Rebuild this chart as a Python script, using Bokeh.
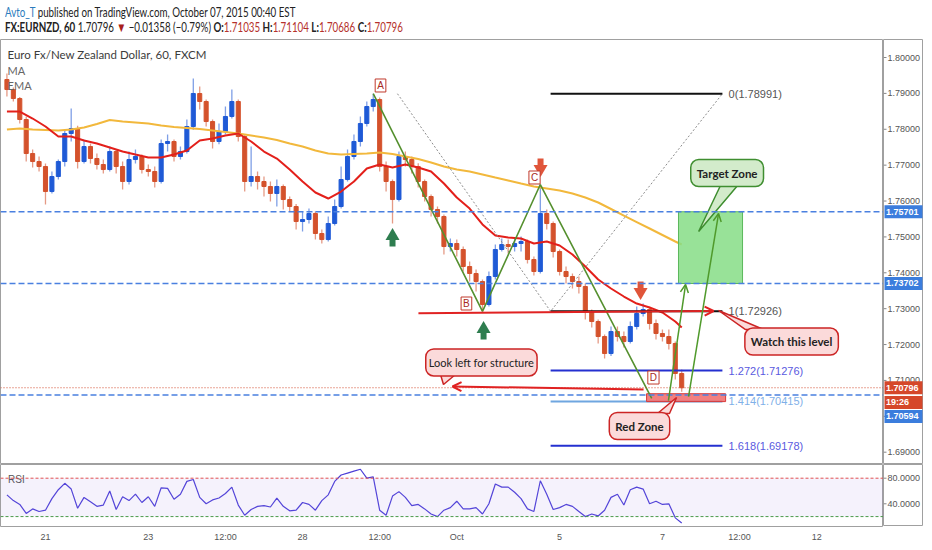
from bokeh.plotting import figure
from bokeh.models import (Range1d, FixedTicker, Span, BoxAnnotation,
                          Label, Arrow, OpenHead, ColumnDataSource, Div)
from bokeh.layouts import column, row
from bokeh.embed import file_html
from bokeh.resources import INLINE
from bokeh.core.properties import value

# ---------------- data (EURNZD, 3-hour bars, x = trading hours from Sep 21 00:00) ----------------
first_hour = -18
bar_hours = 3
first_open = 1.79387
closes = [1.79108, 1.78857, 1.78272, 1.77324, 1.77101, 1.76962, 1.76265, 1.76683, 1.77101, 1.77882,
          1.78021, 1.77101, 1.77519, 1.77185, 1.77018, 1.76878, 1.77380, 1.76962, 1.76544, 1.77157,
          1.77241, 1.76878, 1.76823, 1.76544, 1.77603, 1.77659, 1.77241, 1.77380, 1.78077, 1.78997,
          1.78774, 1.78216, 1.77659, 1.77938, 1.78356, 1.78774, 1.77798, 1.76544, 1.76683, 1.76544,
          1.76405, 1.76210, 1.76405, 1.76042, 1.75847, 1.75429, 1.75485, 1.75652, 1.75095, 1.74927,
          1.75373, 1.75847, 1.76600, 1.77241, 1.77659, 1.78161, 1.78634, 1.78829, 1.76962, 1.76544,
          1.76042, 1.77241, 1.77157, 1.76962, 1.76544, 1.76126, 1.75764, 1.75569, 1.74732, 1.74816,
          1.74649, 1.74175, 1.73980, 1.73757, 1.73116, 1.73896, 1.74649, 1.74788, 1.74732, 1.74816,
          1.74872, 1.74370, 1.74036, 1.75652, 1.75373, 1.74593, 1.74036, 1.73896, 1.73757, 1.73618,
          1.72921, 1.72642, 1.72224, 1.71750, 1.72363, 1.72224, 1.72085, 1.72503, 1.72865, 1.72976,
          1.72586, 1.72308, 1.72224, 1.72029, 1.71193, 1.70796]
highs = [1.79554, 1.79164, 1.78900, 1.78356, 1.77436, 1.77241, 1.77046, 1.76823, 1.77157, 1.77993,
         1.78579, 1.78100, 1.77715, 1.77600, 1.77324, 1.77157, 1.77519, 1.77436, 1.77101, 1.77380,
         1.77436, 1.77300, 1.77018, 1.76962, 1.77715, 1.77854, 1.77715, 1.77519, 1.78272, 1.79415,
         1.79192, 1.78829, 1.78272, 1.78161, 1.78634, 1.79108, 1.78829, 1.77854, 1.77519, 1.76823,
         1.76683, 1.76544, 1.76600, 1.76460, 1.76126, 1.75920, 1.75708, 1.75791, 1.75708, 1.75206,
         1.75569, 1.76042, 1.76962, 1.77436, 1.77854, 1.78356, 1.78774, 1.78991, 1.78885, 1.77101,
         1.76600, 1.77380, 1.77380, 1.77241, 1.77050, 1.76600, 1.76182, 1.75847, 1.75624, 1.74955,
         1.74927, 1.74732, 1.74314, 1.74091, 1.73813, 1.74036, 1.74788, 1.74955, 1.74927, 1.74983,
         1.75011, 1.74927, 1.74454, 1.76460, 1.75764, 1.75429, 1.74650, 1.74175, 1.73980, 1.73896,
         1.73700, 1.72976, 1.72698, 1.72280, 1.72503, 1.72503, 1.72363, 1.72642, 1.73060, 1.73144,
         1.73060, 1.72698, 1.72419, 1.72419, 1.72085, 1.71304]
lows = [1.78913, 1.78774, 1.78161, 1.77101, 1.76934, 1.76823, 1.75903, 1.76210, 1.76600, 1.76962,
        1.77659, 1.76906, 1.77046, 1.77046, 1.76878, 1.76767, 1.76823, 1.76767, 1.76321, 1.76460,
        1.77046, 1.76767, 1.76683, 1.76377, 1.76488, 1.77380, 1.77101, 1.77157, 1.77324, 1.77990,
        1.78551, 1.78077, 1.77464, 1.77580, 1.77854, 1.78300, 1.77659, 1.76265, 1.76405, 1.76321,
        1.76126, 1.75987, 1.75847, 1.75764, 1.75708, 1.75206, 1.75150, 1.75373, 1.74927, 1.74816,
        1.74872, 1.75318, 1.75791, 1.76544, 1.77157, 1.77519, 1.78077, 1.78495, 1.76823, 1.76265,
        1.75373, 1.75987, 1.76962, 1.76767, 1.76377, 1.75987, 1.75569, 1.75373, 1.74509, 1.74593,
        1.74454, 1.74036, 1.73757, 1.73478, 1.72926, 1.73060, 1.73813, 1.74593, 1.74537, 1.74593,
        1.74593, 1.74259, 1.73924, 1.73980, 1.75206, 1.74426, 1.73924, 1.73701, 1.73562, 1.73422,
        1.72698, 1.72475, 1.72029, 1.71611, 1.71680, 1.72085, 1.71917, 1.72029, 1.72419, 1.72781,
        1.72419, 1.72140, 1.72085, 1.71862, 1.71026, 1.70686]
ma_index = list(range(0, 106, 2)) + [105]
ema_line = [1.78495, 1.78495, 1.78300, 1.78077, 1.77798, 1.77798, 1.77687, 1.77603, 1.77492, 1.77380,
            1.77296, 1.77213, 1.77213, 1.77296, 1.77408, 1.77687, 1.77742, 1.77826, 1.77882, 1.77659,
            1.77380, 1.77185, 1.76878, 1.76544, 1.76237, 1.76070, 1.76265, 1.76544, 1.76906, 1.77018,
            1.76934, 1.77018, 1.76934, 1.76823, 1.76488, 1.76098, 1.75791, 1.75346, 1.75039, 1.74983,
            1.74955, 1.74816, 1.74872, 1.74760, 1.74509, 1.74175, 1.73813, 1.73562, 1.73339, 1.73144,
            1.73032, 1.72893, 1.72642, 1.72475]
ma_line = [1.77993, 1.78021, 1.77993, 1.77979, 1.77965, 1.77993, 1.78049, 1.78147, 1.78258, 1.78216,
           1.78188, 1.78161, 1.78105, 1.78063, 1.78035, 1.78007, 1.77965, 1.77924, 1.77882, 1.77826,
           1.77770, 1.77701, 1.77603, 1.77519, 1.77408, 1.77324, 1.77296, 1.77310, 1.77324, 1.77352,
           1.77310, 1.77241, 1.77171, 1.77073, 1.76962, 1.76878, 1.76823, 1.76739, 1.76655, 1.76572,
           1.76488, 1.76405, 1.76349, 1.76293, 1.76210, 1.76098, 1.75959, 1.75778, 1.75596, 1.75415,
           1.75234, 1.75053, 1.74872, 1.74788]
rsi = [54, 45, 39, 25, 32, 28, 30, 48, 62, 72,
       63, 33, 50, 43, 36, 38, 60, 31, 51, 45,
       55, 42, 51, 36, 65, 64, 47, 55, 75, 78,
       50, 40, 46, 49, 56, 66, 38, 22, 31, 36,
       37, 35, 49, 36, 29, 30, 42, 39, 30, 45,
       54, 75, 85, 88, 91, 94, 80, 82, 30, 22,
       52, 59, 50, 37, 39, 32, 24, 20, 30, 34,
       44, 32, 32, 34, 24, 40, 71, 66, 66, 58,
       48, 32, 28, 76, 55, 31, 34, 39, 36, 28,
       20, 24, 21, 30, 50, 55, 38, 62, 66, 63,
       40, 44, 39, 40, 18, 10]

time_ticks = [0, 48, 84, 120, 156, 192, 240, 288, 324, 360]
time_labels = ["21", "23", "12:00", "28", "12:00", "Oct", "5", "7", "12:00", "12"]
price_ticks = [1.69, 1.70, 1.71, 1.72, 1.73, 1.74, 1.75, 1.76, 1.77, 1.78, 1.79, 1.80]
rsi_ticks = [40, 80]
rsi_bands = [20, 80]

level_prices = [1.75701, 1.73702, 1.70594]
last_price = 1.70796

# price tags on the right scale
tag_texts = ["1.75701", "1.73702", "1.70796", "19:26", "1.70594"]
tag_prices = [1.75701, 1.73702, 1.70796, 1.70385, 1.69995]
tag_colors = ["#3b7ddd", "#3b7ddd", "#d5472a", "#d5472a", "#3b7ddd"]

# harmonic A-B-C-D
abcd_names = ["A", "B", "C", "D"]
abcd_hours = [153.0, 204.0, 231.0, 283.0]
abcd_prices = [1.78991, 1.72926, 1.76460, 1.70500]
abcd_label_hours = [156.4, 196.5, 228.3, 283.8]
abcd_label_prices = [1.79220, 1.73144, 1.76656, 1.71081]

# fib extension
fib_ratios = ["0", "1", "1.272", "1.414", "1.618"]
fib_prices = [1.78991, 1.72926, 1.71276, 1.70415, 1.69178]
fib_span = [235.8, 316.0]
fib_label_hour = 318.9
fib_diag_hours = [164.3, 235.8, 316.0]
fib_diag_prices = [1.78991, 1.72926, 1.78991]

# signal arrows (hour, head centre, stem centre)
sig_hours = [162.0, 204.5, 231.1, 277.8]
sig_heads = [1.75025, 1.72433, 1.76892, 1.73464]
sig_stems = [1.74844, 1.72252, 1.77074, 1.73645]
sig_markers = ["triangle", "triangle", "inverted_triangle", "inverted_triangle"]

# zones
red_zone = dict(left=280.6, right=317.5, top=1.70630, bottom=1.70410)
target_zone = dict(left=295.5, right=325.4, top=1.75701, bottom=1.73702)

# drawn arrows (x0, y0, x1, y1)
red_level_arrow = (174.1, 1.72875, 311.9, 1.72935)
look_left_arrow = (279.2, 1.70747, 190.0, 1.70831)
green_arrows = [(290.8, 1.70440, 298.8, 1.73673), (300.2, 1.70551, 314.2, 1.75652)]

# callouts
callout_texts = ["Look left for structure", "Watch this level", "Red Zone", "Target Zone"]
callout_hours = [203.5, 348.3, 277.3, 318.2]
callout_prices = [1.71500, 1.72085, 1.69730, 1.76781]
tail_xs = [[184.4, 191.4, 185.8], [326.8, 335.2, 314.2], [285.7, 291.3, 294.6], [315.1, 323.1, 304.9]]
tail_ys = [[1.71165, 1.71165, 1.70886], [1.72419, 1.72419, 1.72949],
           [1.70078, 1.70078, 1.70524], [1.76433, 1.76433, 1.75150]]

# ---------------- styles ----------------
UP, DOWN = "#1f5ad6", "#d4522c"
UP_WICK, DOWN_WICK = "#7f9fe6", "#e59a85"
fib_colors = ["#111111", "#111111", "#2430d0", "#6fa6e0", "#2430d0"]
fib_text_colors = ["#555555", "#555555", "#5a5ae0", "#7fb0e8", "#5a5ae0"]
sig_colors = ["#2e7d4f", "#2e7d4f", "#e0553a", "#e0553a"]
callout_bold = [False, True, True, True]
callout_padx = [3, 6, 6, 6]
callout_fill = ["#fbdada", "#fbdada", "#fbdada", "#d3ebcb"]
callout_line = ["#cc2525", "#cc2525", "#cc2525", "#3f8e30"]
AXIS_TXT = "#555555"
BORDER = "#a0a0a0"
FRAME_W = 883
SCALE_W = 40

# ---------------- header ----------------
header_html = (
    '<div style="font-family:Lato,sans-serif;font-size:13px;line-height:15px;color:#222;'
    'white-space:nowrap;transform:scaleX(0.75);transform-origin:0 0;">'
    '<div><span style="color:#2b7bbd">Avto_T</span> published on TradingView.com, October 07, 2015 00:40 EST</div>'
    '<div><b>FX:EURNZD, 60</b> 1.70796 <span style="color:#a8201a">&#9660;</span> &#8722;0.01358 (&#8722;0.79%) '
    '<b>O:</b><span style="color:#b5312b">1.71035</span> <b>H:</b><span style="color:#b5312b">1.71104</span> '
    '<b>L:</b><span style="color:#b5312b">1.70686</span> <b>C:</b><span style="color:#b5312b">1.70796</span></div>'
    '</div>'
)
header = Div(text=header_html, width=FRAME_W + SCALE_W, height=29)

# ---------------- main pane ----------------
x_range = Range1d(-21.0, 391.2)
price_range = Range1d(1.68657, 1.80502)
p = figure(frame_width=FRAME_W, frame_height=425, x_range=x_range, y_range=price_range,
           x_axis_location=None, y_axis_location=None, toolbar_location=None,
           output_backend="svg", min_border=0, outline_line_color=BORDER,
           background_fill_color="white", border_fill_color="white")
p.grid.visible = False

for lp in level_prices:
    p.add_layout(Span(location=lp, dimension="width", line_color="#4a80e0", line_dash="6 3", line_width=1.5))
p.add_layout(Span(location=last_price, dimension="width", line_color="#d24a2c", line_dash="1 2", line_width=1))

n = len(closes)
hours = [first_hour + bar_hours * i for i in range(n)]
opens = [first_open] + closes[:-1]
is_up = [c >= o for o, c in zip(opens, closes)]
src = ColumnDataSource(dict(
    x=hours, h=highs, l=lows,
    top=[max(o, c) for o, c in zip(opens, closes)],
    bottom=[min(o, c) for o, c in zip(opens, closes)],
    body=[UP if u else DOWN for u in is_up],
    wick=[UP_WICK if u else DOWN_WICK for u in is_up],
))
p.segment(x0="x", y0="l", x1="x", y1="h", line_color="wick", line_width=1.3, source=src)
p.vbar(x="x", width=1.9, top="top", bottom="bottom", fill_color="body", line_color="body",
       line_width=1, source=src)

ma_hours = [hours[i] for i in ma_index]
p.line(ma_hours, ma_line, line_color="#f2b83c", line_width=2)
p.line(ma_hours, ema_line, line_color="#e3201b", line_width=2)

# fib tool
p.line(fib_diag_hours, fib_diag_prices, line_color="#8c8c8c", line_dash="2 2", line_width=1)
p.segment(x0=[fib_span[0]] * len(fib_prices), y0=fib_prices, x1=[fib_span[1]] * len(fib_prices),
          y1=fib_prices, line_color=fib_colors, line_width=2)
p.text(x=[fib_label_hour] * len(fib_prices), y=fib_prices,
       text=[f"{r}({v:.5f})" for r, v in zip(fib_ratios, fib_prices)],
       text_color=fib_text_colors, text_font=value("Liberation Sans"), text_font_size="11px",
       text_baseline="middle", text_align="left")

# zones
p.quad(fill_color="#f06a6a", fill_alpha=0.85, line_color="#d83a3a", line_width=1,
       **{k: [v] for k, v in red_zone.items()})
p.quad(fill_color="#86dd86", fill_alpha=0.85, line_color="#5cb85c", line_width=1,
       **{k: [v] for k, v in target_zone.items()})

# harmonic lines
p.line(abcd_hours, abcd_prices, line_color="#55902f", line_width=1.6)

# arrows
x0, y0, x1, y1 = red_level_arrow
p.add_layout(Arrow(x_start=x0, y_start=y0, x_end=x1, y_end=y1, line_color="#e02222", line_width=2,
                   end=OpenHead(size=9, line_color="#e02222", line_width=2)))
x0, y0, x1, y1 = look_left_arrow
p.add_layout(Arrow(x_start=x0, y_start=y0, x_end=x1, y_end=y1, line_color="#e02222", line_width=2,
                   end=OpenHead(size=9, line_color="#e02222", line_width=2)))
for (x0, y0, x1, y1) in green_arrows:
    p.add_layout(Arrow(x_start=x0, y_start=y0, x_end=x1, y_end=y1, line_color="#4f9a2b", line_width=1.5,
                       end=OpenHead(size=8, line_color="#4f9a2b", line_width=1.5)))

# signal arrows
p.rect(x=sig_hours, y=sig_stems, width=6, height=8, width_units="screen", height_units="screen",
       fill_color=sig_colors, line_color=None)
p.scatter(x=sig_hours, y=sig_heads, marker=sig_markers, size=14, fill_color=sig_colors, line_color=None)

# callouts
p.patches(xs=tail_xs, ys=tail_ys, fill_color=callout_fill, line_color=callout_line, line_width=1.5)
for t, hx, py, b, px_, fc, lc in zip(callout_texts, callout_hours, callout_prices, callout_bold,
                                     callout_padx, callout_fill, callout_line):
    p.add_layout(Label(x=hx, y=py, text=t, text_align="center", text_baseline="middle",
                       text_font="Lato", text_font_size="11px" if not b else "11.5px",
                       text_font_style="bold" if b else "normal", text_color="#222222",
                       background_fill_color=fc, border_line_color=lc, border_line_width=1.5,
                       border_radius=8, padding=dict(left=px_, right=px_, top=7, bottom=7)))

# A B C D labels
for nm, hx, py in zip(abcd_names, abcd_label_hours, abcd_label_prices):
    p.add_layout(Label(x=hx, y=py, text=nm, text_align="center", text_baseline="middle",
                       text_font="Liberation Sans", text_font_size="10px", text_color="#a82a22",
                       background_fill_color="white", border_line_color="#c0392b", border_line_width=1,
                       padding=dict(left=2, right=2, top=1, bottom=1)))

# titles / legend
p.text(x=[-17.7], y=[1.80084], text=["Euro Fx/New Zealand Dollar, 60, FXCM"], text_font=value("Lato"),
       text_font_size="11.5px", text_color="#3c3c3c", text_baseline="middle")
p.text(x=[-17.7, -17.7], y=[1.79638, 1.79220], text=["MA", "EMA"], text_font=value("Lato"),
       text_font_size="11px", text_color="#666666", text_baseline="middle")

# ---------------- price scale (right) ----------------
ps = figure(frame_width=SCALE_W, frame_height=425, x_range=Range1d(0, SCALE_W), y_range=price_range,
            x_axis_location=None, y_axis_location=None, toolbar_location=None, output_backend="svg",
            min_border=0, outline_line_color=BORDER, background_fill_color="white", border_fill_color="white")
ps.grid.visible = False
ps.segment(x0=[0] * len(price_ticks), y0=price_ticks, x1=[3] * len(price_ticks), y1=price_ticks,
           line_color="#888888", line_width=1)
ps.text(x=[4] * len(price_ticks), y=price_ticks, text=[f"{t:.5f}" for t in price_ticks],
        text_font=value("Liberation Sans"), text_font_size="9px", text_color=AXIS_TXT,
        text_baseline="middle", text_align="left")
ps.rect(x=[SCALE_W / 2] * len(tag_prices), y=tag_prices, width=SCALE_W - 2, height=13,
        height_units="screen", fill_color=tag_colors, line_color=None)
ps.text(x=[2.5] * len(tag_prices), y=tag_prices, text=tag_texts, text_font=value("Liberation Sans"),
        text_font_size="9px", text_font_style="bold", text_color="white",
        text_baseline="middle", text_align="left")

# ---------------- RSI pane ----------------
rsi_range = Range1d(4.5, 101.4)
p2 = figure(frame_width=FRAME_W, frame_height=62, x_range=x_range, y_range=rsi_range,
            y_axis_location=None, toolbar_location=None, output_backend="svg", min_border=0,
            outline_line_color=BORDER, background_fill_color="white", border_fill_color="white")
p2.grid.visible = False
p2.add_layout(BoxAnnotation(bottom=rsi_bands[0], top=rsi_bands[1], fill_color="#9d7fe6", fill_alpha=0.1,
                            line_color=None))
p2.add_layout(Span(location=rsi_bands[1], dimension="width", line_color="#e05050", line_dash="3 2", line_width=1))
p2.add_layout(Span(location=rsi_bands[0], dimension="width", line_color="#4a9a4a", line_dash="3 2", line_width=1))
p2.line(hours, rsi, line_color="#4c3fd8", line_width=1.2)
p2.text(x=[-17.5], y=[78], text=["RSI"], text_font=value("Liberation Sans"), text_font_size="10px",
        text_color=AXIS_TXT, text_baseline="middle")

xa = p2.xaxis[0]
xa.ticker = FixedTicker(ticks=time_ticks)
xa.major_label_overrides = {t: lab for t, lab in zip(time_ticks, time_labels)}
xa.major_label_text_font = "Liberation Sans"
xa.major_label_text_font_size = "9px"
xa.major_label_text_color = AXIS_TXT
xa.major_tick_out = 0
xa.major_tick_in = 0
xa.minor_tick_out = 0
xa.minor_tick_in = 0
xa.axis_line_color = None
xa.major_label_standoff = 5

ps2 = figure(frame_width=SCALE_W, frame_height=62, x_range=Range1d(0, SCALE_W), y_range=rsi_range,
             x_axis_location=None, y_axis_location=None, toolbar_location=None, output_backend="svg",
             min_border=0, outline_line_color=BORDER, background_fill_color="white", border_fill_color="white")
ps2.grid.visible = False
ps2.segment(x0=[0] * len(rsi_ticks), y0=rsi_ticks, x1=[3] * len(rsi_ticks), y1=rsi_ticks,
            line_color="#888888", line_width=1)
ps2.text(x=[4] * len(rsi_ticks), y=rsi_ticks, text=[f"{t:.4f}" for t in rsi_ticks],
         text_font=value("Liberation Sans"), text_font_size="9px", text_color=AXIS_TXT,
         text_baseline="middle", text_align="left")

layout = column(header, row(p, ps), row(p2, ps2))
open("out.html", "w").write(file_html(layout, INLINE))
